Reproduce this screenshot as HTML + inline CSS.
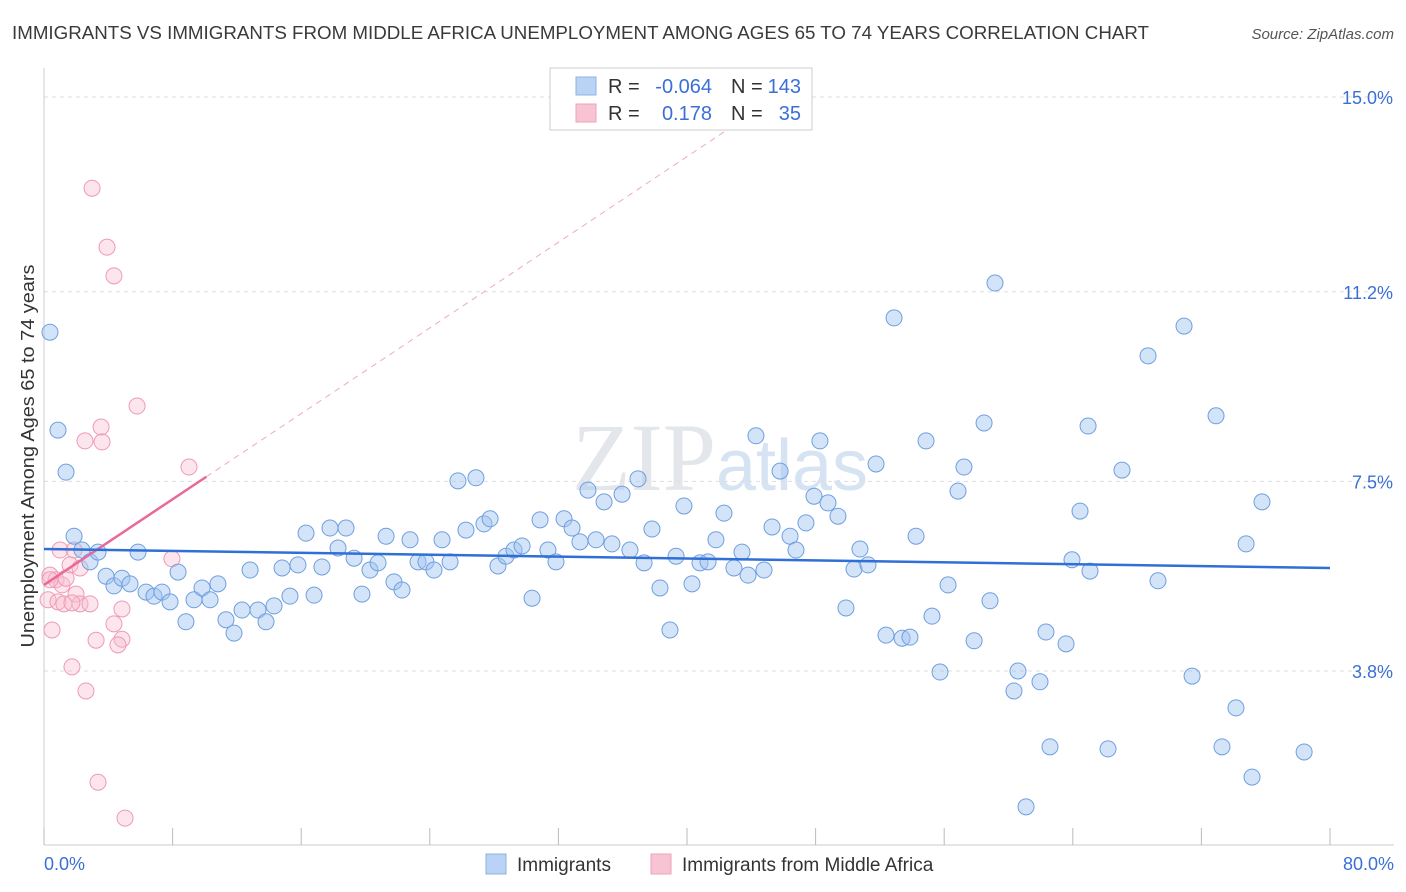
<!DOCTYPE html>
<html><head><meta charset="utf-8">
<style>
body{margin:0;background:#fff;font-family:"Liberation Sans",sans-serif;}
svg{display:block}
</style></head>
<body>
<svg id="chart" width="1406" height="892" xmlns="http://www.w3.org/2000/svg" font-family="Liberation Sans, sans-serif">
<text x="12" y="39" font-size="18" fill="#3a3a3a" textLength="1137" lengthAdjust="spacingAndGlyphs">IMMIGRANTS VS IMMIGRANTS FROM MIDDLE AFRICA UNEMPLOYMENT AMONG AGES 65 TO 74 YEARS CORRELATION CHART</text>
<text x="1394" y="39" font-size="15" fill="#555" font-style="italic" text-anchor="end">Source: ZipAtlas.com</text>
<text x="720" y="490" font-size="96" fill="#e3e6ea" text-anchor="middle" font-family="Liberation Serif, serif">ZIP<tspan fill="#d5e3f3" font-family="Liberation Sans, sans-serif" font-size="72">atlas</tspan></text>
<g id="grid"></g><g id="axes"></g><g id="pink"></g><g id="blue"></g><g id="trends"></g>
<text transform="translate(34,456) rotate(-90)" font-size="18" fill="#333" text-anchor="middle" textLength="383" lengthAdjust="spacingAndGlyphs">Unemployment Among Ages 65 to 74 years</text>
<text x="44" y="870" font-size="18" fill="#3b6fd6">0.0%</text>
<text x="1394" y="870" font-size="18" fill="#3b6fd6" text-anchor="end">80.0%</text>
<g>
<rect x="550" y="68" width="262" height="62" fill="#fff" stroke="#ccc"/>
<rect x="576" y="77" width="20" height="18" fill="#b9d3f5" stroke="#8fb2e6"/>
<rect x="576" y="104" width="20" height="18" fill="#f8c3d3" stroke="#eea3bb"/>
<text x="608" y="93" font-size="20" fill="#333">R =</text>
<text x="712" y="93" font-size="20" fill="#3b6fd6" text-anchor="end">-0.064</text>
<text x="731" y="93" font-size="20" fill="#333">N =</text>
<text x="801" y="93" font-size="20" fill="#3b6fd6" text-anchor="end">143</text>
<text x="608" y="120" font-size="20" fill="#333">R =</text>
<text x="712" y="120" font-size="20" fill="#3b6fd6" text-anchor="end">0.178</text>
<text x="731" y="120" font-size="20" fill="#333">N =</text>
<text x="801" y="120" font-size="20" fill="#3b6fd6" text-anchor="end">35</text>
</g>
<g>
<rect x="486" y="854" width="20" height="20" fill="#b9d3f5" stroke="#8fb2e6"/>
<text x="517" y="871" font-size="19" fill="#333">Immigrants</text>
<rect x="651" y="854" width="20" height="20" fill="#f8c3d3" stroke="#eea3bb"/>
<text x="682" y="871" font-size="19" fill="#333">Immigrants from Middle Africa</text>
</g>
</svg>
<script>
const yTicks=[3.8,7.5,11.2,15.0];
const xTickCount=10;
const blueX=[0.37,0.87,1.37,1.87,2.36,2.86,3.36,3.86,4.35,4.85,5.35,5.85,6.35,6.84,7.34,7.84,8.34,8.83,9.33,9.83,10.33,10.82,11.32,11.82,12.32,12.82,13.31,13.81,14.31,14.81,15.30,15.80,16.30,16.80,17.29,17.79,18.29,18.79,19.29,19.78,20.28,20.78,21.28,21.77,22.27,22.77,23.27,23.76,24.26,24.76,25.26,25.75,26.25,26.87,27.37,27.75,28.24,28.74,29.24,29.74,30.36,30.86,31.35,31.85,32.35,32.85,33.34,33.84,34.34,34.84,35.33,35.96,36.45,36.95,37.33,37.82,38.32,38.94,39.32,39.81,40.31,40.81,41.31,41.80,42.30,42.92,43.42,43.80,44.29,44.79,45.29,45.79,46.41,46.78,47.40,47.90,48.27,48.77,49.39,49.89,50.39,50.76,51.26,51.76,52.38,52.88,53.38,53.87,54.25,54.87,55.24,55.74,56.24,56.86,57.23,57.86,58.48,58.85,59.16,60.34,60.59,61.09,61.96,62.33,62.58,63.58,63.95,64.45,65.07,64.95,66.19,67.06,68.68,69.30,70.92,71.42,72.91,73.28,74.15,74.78,75.15,75.77,78.39];
const blueY=[10.41,8.50,7.68,6.43,6.16,5.93,6.12,5.65,5.46,5.61,5.50,6.12,5.34,5.26,5.34,5.15,5.73,4.76,5.19,5.42,5.19,5.50,4.80,4.54,4.99,5.77,4.99,4.76,5.07,5.81,5.26,5.87,6.49,5.28,5.83,6.59,6.20,6.59,6.00,5.30,5.77,5.91,6.43,5.54,5.38,6.36,5.93,5.93,5.77,6.36,5.93,7.51,6.55,7.57,6.67,6.77,5.85,6.04,6.16,6.24,5.22,6.75,6.16,5.93,6.77,6.59,6.32,7.33,6.36,7.10,6.28,7.25,6.16,7.55,5.91,6.57,5.42,4.60,6.04,7.02,5.50,5.91,5.93,6.36,6.88,5.81,6.12,5.67,8.39,5.77,6.61,7.70,6.43,6.16,6.69,7.21,8.29,7.08,6.82,5.03,5.79,6.18,5.87,7.84,4.50,10.69,4.44,4.46,6.43,8.29,4.87,3.78,5.48,7.31,7.78,4.39,8.64,5.17,11.37,3.41,3.80,1.15,3.59,4.56,2.32,4.33,5.97,6.92,5.75,8.58,2.28,7.72,9.95,5.56,10.53,3.70,8.78,2.32,3.08,6.28,1.73,7.10,2.22];
const pinkX=[2.99,3.92,4.35,5.79,3.55,2.55,3.61,9.02,7.96,1.00,1.87,0.37,0.75,1.12,1.37,1.62,2.24,0.25,0.87,1.24,1.99,2.24,2.86,1.74,0.50,4.85,4.35,3.24,4.85,4.60,1.74,2.61,3.36,5.04,0.37];
const pinkY=[13.22,12.07,11.51,8.97,8.56,8.29,8.27,7.78,5.99,6.16,6.16,5.67,5.58,5.48,5.61,5.87,5.81,5.19,5.15,5.11,5.30,5.11,5.11,5.13,4.60,5.01,4.72,4.40,4.42,4.31,3.88,3.41,1.63,0.93,5.58];
const blueTrend=[[0,6.18],[80,5.81]];
const pinkTrend=[[0,5.48],[10.1,7.59]];
const pinkTrendExt=[10.1,42.5];

const X0=44,X1=1330,Y15=97,PPU=51.25;
const xs=v=>X0+(v/80)*(X1-X0);
const ys=v=>Y15+(15-v)*PPU;
const NS="http://www.w3.org/2000/svg";
function mk(tag,attrs,parent){const e=document.createElementNS(NS,tag);for(const k in attrs)e.setAttribute(k,attrs[k]);document.getElementById(parent).appendChild(e);return e;}

yTicks.forEach(t=>{
 const l=mk('line',{x1:X0,x2:1394,y1:ys(t),y2:ys(t),stroke:'#ddd','stroke-dasharray':'4,4'},'grid');
 
 
 const tx=mk('text',{x:1393,y:ys(t)+7,'font-size':18,fill:'#3b6fd6','text-anchor':'end'},'grid');
 tx.textContent=t.toFixed(1)+'%';
 
 
});
const ax=mk('line',{x1:X0,x2:X0,y1:68,y2:845,stroke:'#ccc'},'axes');


const bx=mk('line',{x1:X0,x2:1394,y1:845,y2:845,stroke:'#ccc'},'axes');


for(let i=0;i<=xTickCount;i++){
 const v=80*i/xTickCount;
 const t=mk('line',{x1:xs(v),x2:xs(v),y1:828,y2:845,stroke:'#bbb'},'axes');
 
 
}
blueX.forEach((v,i)=>{
 const c=mk('circle',{cx:xs(v),cy:ys(blueY[i]),r:8,fill:'rgba(160,196,240,0.45)',stroke:'#6f9fe0','stroke-width':1},'blue');
 
 
});
pinkX.forEach((v,i)=>{
 const c=mk('circle',{cx:xs(v),cy:ys(pinkY[i]),r:8,fill:'rgba(248,190,208,0.4)',stroke:'#ee9ab5','stroke-width':1},'pink');
 
 
});
const slope=(pinkTrend[1][1]-pinkTrend[0][1])/(pinkTrend[1][0]-pinkTrend[0][0]);
const pf=x=>pinkTrend[0][1]+slope*(x-pinkTrend[0][0]);
const de=mk('line',{x1:xs(pinkTrendExt[0]),y1:ys(pf(pinkTrendExt[0])),x2:xs(pinkTrendExt[1]),y2:ys(pf(pinkTrendExt[1])),stroke:'#f0a8c0','stroke-width':1,'stroke-dasharray':'6,5'},'trends');


const pl=mk('line',{x1:xs(pinkTrend[0][0]),y1:ys(pinkTrend[0][1]),x2:xs(pinkTrend[1][0]),y2:ys(pinkTrend[1][1]),stroke:'#e8699a','stroke-width':2.5},'trends');


const bl=mk('line',{x1:xs(blueTrend[0][0]),y1:ys(blueTrend[0][1]),x2:xs(blueTrend[1][0]),y2:ys(blueTrend[1][1]),stroke:'#2f6fd6','stroke-width':2.5},'trends');


</script>
</body></html>
